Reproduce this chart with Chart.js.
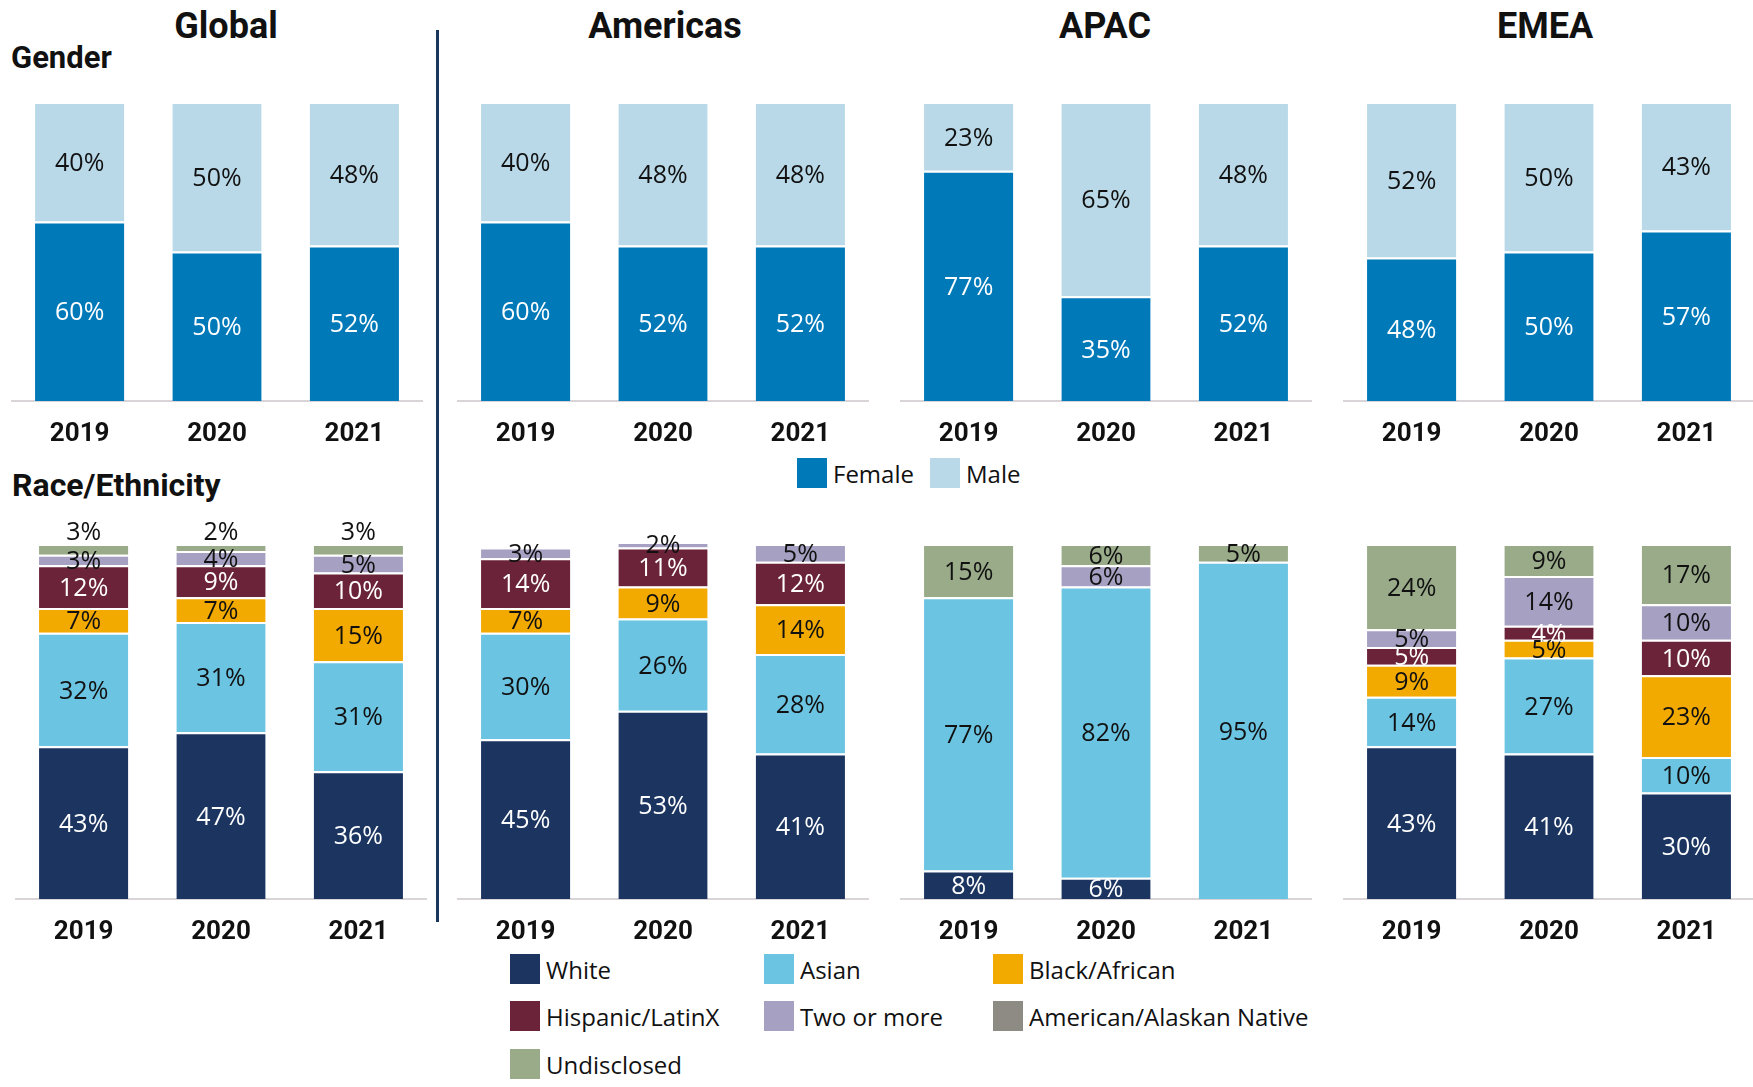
<!DOCTYPE html>
<html>
<head>
<meta charset="utf-8">
<script src="https://cdn.jsdelivr.net/npm/chart.js@4.4.1/dist/chart.umd.min.js"></script>
<style>
html,body{margin:0;padding:0;background:#fff;}
body{width:1753px;height:1087px;position:relative;overflow:hidden;font-family:"Open Sans",sans-serif;color:#111;}
.title{position:absolute;font-family:Roboto,sans-serif;font-weight:700;line-height:1;white-space:nowrap;color:#111;}
.leg{position:absolute;display:flex;align-items:center;font-size:24px;white-space:nowrap;color:#111;height:30px;}
.leg .box{display:inline-block;width:30px;height:30px;margin-right:6px;flex:none;}
canvas{position:absolute;}
</style>
</head>
<body>
<script>
// ---------- DATA ----------
const years = ['2019', '2020', '2021'];
const regions = ['Global', 'Americas', 'APAC', 'EMEA'];

const genderSeries = ['Female', 'Male'];
const femaleGlobal = [60, 50, 52];
const maleGlobal = [40, 50, 48];
const femaleAmericas = [60, 52, 52];
const maleAmericas = [40, 48, 48];
const femaleAPAC = [77, 35, 52];
const maleAPAC = [23, 65, 48];
const femaleEMEA = [48, 50, 57];
const maleEMEA = [52, 50, 43];

const raceSeries = ['White', 'Asian', 'Black/African', 'Hispanic/LatinX', 'Two or more', 'American/Alaskan Native', 'Undisclosed'];
const whiteGlobal = [43, 47, 36];
const asianGlobal = [32, 31, 31];
const blackGlobal = [7, 7, 15];
const hispanicGlobal = [12, 9, 10];
const twoMoreGlobal = [3, 4, 5];
const nativeGlobal = [0, 0, 0];
const undisclosedGlobal = [3, 2, 3];

const whiteAmericas = [45, 53, 41];
const asianAmericas = [30, 26, 28];
const blackAmericas = [7, 9, 14];
const hispanicAmericas = [14, 11, 12];
const twoMoreAmericas = [3, 2, 5];
const nativeAmericas = [0, 0, 0];
const undisclosedAmericas = [0, 0, 0];

const whiteAPAC = [8, 6, 0];
const asianAPAC = [77, 82, 95];
const blackAPAC = [0, 0, 0];
const hispanicAPAC = [0, 0, 0];
const twoMoreAPAC = [0, 6, 0];
const nativeAPAC = [0, 0, 0];
const undisclosedAPAC = [15, 6, 5];

const whiteEMEA = [43, 41, 30];
const asianEMEA = [14, 27, 10];
const blackEMEA = [9, 5, 23];
const hispanicEMEA = [5, 4, 10];
const twoMoreEMEA = [5, 14, 10];
const nativeEMEA = [0, 0, 0];
const undisclosedEMEA = [24, 9, 17];

// ---------- STYLE ----------
const genderColors = ['#0079b9', '#b9d9e8'];
const genderText = ['#ffffff', '#111111'];
const raceColors = ['#1b3560', '#6bc4e2', '#f2a900', '#6b2339', '#a6a0c2', '#8e8a84', '#99ab89'];
const raceText = ['#ffffff', '#111111', '#111111', '#ffffff', '#111111', '#111111', '#111111'];

const genderByRegion = [
  [femaleGlobal, maleGlobal],
  [femaleAmericas, maleAmericas],
  [femaleAPAC, maleAPAC],
  [femaleEMEA, maleEMEA]
];
const raceByRegion = [
  [whiteGlobal, asianGlobal, blackGlobal, hispanicGlobal, twoMoreGlobal, nativeGlobal, undisclosedGlobal],
  [whiteAmericas, asianAmericas, blackAmericas, hispanicAmericas, twoMoreAmericas, nativeAmericas, undisclosedAmericas],
  [whiteAPAC, asianAPAC, blackAPAC, hispanicAPAC, twoMoreAPAC, nativeAPAC, undisclosedAPAC],
  [whiteEMEA, asianEMEA, blackEMEA, hispanicEMEA, twoMoreEMEA, nativeEMEA, undisclosedEMEA]
];

const AXIS_H = 54;
const PANEL_W = 412;
const genderLefts = [11, 457, 900, 1343];
const raceLefts = [15, 457, 900, 1343];
const titleCenters = [226, 665, 1105, 1545];

// value labels plugin
const valueLabels = {
  id: 'valueLabels',
  afterDatasetsDraw(chart, args, opts) {
    const ctx = chart.ctx;
    ctx.save();
    ctx.font = '25px "Open Sans"';
    ctx.textAlign = 'center';
    ctx.textBaseline = 'middle';
    chart.data.datasets.forEach((ds, i) => {
      const meta = chart.getDatasetMeta(i);
      if (meta.hidden) return;
      meta.data.forEach((bar, j) => {
        const v = ds.data[j];
        if (!v) return;
        const above = opts && opts.above === ds.label;
        const y = above ? bar.y - 11 : (bar.y + bar.base) / 2 + 2;
        ctx.fillStyle = above ? '#111111' : ds.labelColor;
        ctx.fillText(v + '%', bar.x, y);
      });
    });
    ctx.restore();
  }
};

function makeChart(left, top, padTop, areaH, series, colors, textColors, arrays, aboveSeries) {
  const c = document.createElement('canvas');
  c.width = PANEL_W;
  c.height = padTop + areaH + AXIS_H;
  c.style.left = left + 'px';
  c.style.top = (top - padTop) + 'px';
  document.body.appendChild(c);
  new Chart(c, {
    type: 'bar',
    data: {
      labels: years,
      datasets: series.map((name, i) => ({
        label: name,
        data: arrays[i],
        backgroundColor: colors[i],
        borderColor: '#ffffff',
        borderWidth: {top: 2, left: 0, right: 0, bottom: 0},
        borderSkipped: 'start',
        labelColor: textColors[i],
        categoryPercentage: 1,
        barPercentage: 0.65
      }))
    },
    options: {
      responsive: false,
      animation: false,
      devicePixelRatio: 1,
      layout: {padding: {top: padTop, left: 0, right: 0, bottom: 0}},
      plugins: {
        legend: {display: false},
        tooltip: {enabled: false},
        valueLabels: {above: aboveSeries}
      },
      scales: {
        x: {
          stacked: true,
          grid: {display: false, drawTicks: false, tickLength: 0},
          border: {display: true, color: '#d9d4d8', width: 2},
          ticks: {color: '#111111', font: {family: 'Roboto', weight: 'bold', size: 26}, padding: 18, maxRotation: 0, autoSkip: false},
          afterFit: (s) => { s.height = AXIS_H; }
        },
        y: {stacked: true, display: false, min: 0, max: 100}
      }
    },
    plugins: [valueLabels]
  });
}

function addText(cls, text, styles) {
  const d = document.createElement('div');
  d.className = cls;
  d.textContent = text;
  Object.assign(d.style, styles);
  document.body.appendChild(d);
  return d;
}

function addLegend(items, colors, positions) {
  items.forEach((name, i) => {
    const d = document.createElement('div');
    d.className = 'leg';
    d.style.left = positions[i][0] + 'px';
    d.style.top = (positions[i][1] - 15) + 'px';
    const b = document.createElement('span');
    b.className = 'box';
    b.style.background = colors[i];
    d.appendChild(b);
    d.appendChild(document.createTextNode(name));
    document.body.appendChild(d);
  });
}

// titles
regions.forEach((r, i) => {
  addText('title', r, {fontSize: '36px', left: titleCenters[i] + 'px', top: '8px', transform: 'translateX(-50%)'});
});
addText('title', 'Gender', {fontSize: '31px', left: '11px', top: '42px'});
addText('title', 'Race/Ethnicity', {fontSize: '32px', left: '12px', top: '469px'});

// divider
const div = document.createElement('div');
Object.assign(div.style, {position: 'absolute', left: '436px', top: '30px', width: '3px', height: '892px', background: '#1b365d'});
document.body.appendChild(div);

// charts
regions.forEach((r, i) => {
  makeChart(genderLefts[i], 102, 10, 299, genderSeries, genderColors, genderText, genderByRegion[i], null);
  makeChart(raceLefts[i], 544, 40, 355, raceSeries, raceColors, raceText, raceByRegion[i], i === 0 ? 'Undisclosed' : null);
});

// legends
addLegend(genderSeries, genderColors, [[797, 473], [930, 473]]);
addLegend(raceSeries, raceColors, [
  [510, 969], [764, 969], [993, 969],
  [510, 1016], [764, 1016], [993, 1016],
  [510, 1064]
]);
</script>
</body>
</html>
